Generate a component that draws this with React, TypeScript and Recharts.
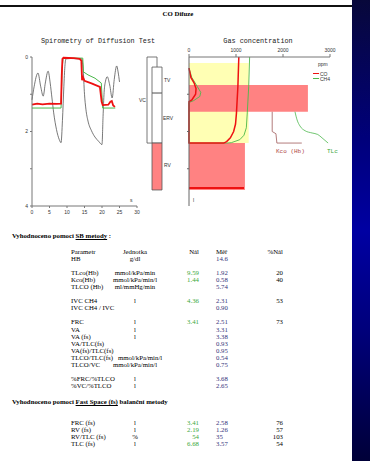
import React from "react";
import { LineChart, ComposedChart, BarChart, Bar, Line, XAxis, YAxis, ReferenceArea } from "recharts";

// spirometry traces: [time s, volume l]
const volumeTrace: [number, number][] = [
  [0, 1.15], [0.6, 0.8], [1.7, 0.43], [2.5, 0.8], [3.2, 1.05], [3.8, 0.7], [4.6, 0.38],
  [5.2, 0.7], [5.7, 1.1], [6.2, 1.5], [7, 1.95], [7.8, 2.22], [8.3, 2.3], [8.7, 1.7],
  [9.1, 0.8], [9.4, 0.25], [9.7, 0.05], [11, 0.04], [14.2, 0.05], [14.6, 0.3], [15, 1.0],
  [15.4, 1.4], [16, 1.72], [17, 1.98], [18, 2.15], [19, 2.26], [20, 2.35], [20.3, 1.6],
  [20.6, 0.95], [21, 0.65], [21.5, 0.53], [22.2, 0.75], [22.9, 1.1], [23.5, 0.6],
  [24.2, 0.24], [24.6, 0.4], [25, 0.67],
];
const coTrace: [number, number][] = [
  [0, 1.28], [1.5, 1.25], [3, 1.27], [5, 1.25], [7, 1.26], [8.3, 1.25], [8.5, 0.5],
  [8.7, 0.05], [9, 0.02], [12, 0.03], [13.6, 0.05], [14.1, 0.1], [14.3, 0.62], [14.6, 0.55],
  [15, 0.64], [17, 0.71], [19.4, 0.8], [19.9, 1.2], [20.2, 1.29], [21.8, 1.28],
  [22.4, 1.2], [22.8, 1.18], [23.2, 1.3], [23.7, 1.34],
];
const ch4Trace: [number, number][] = [
  [0, 1.37], [8.3, 1.37], [8.6, 0.3], [8.9, 0.03], [14.5, 0.03], [14.7, 0.4],
  [16, 0.48], [18, 0.57], [19.8, 0.7], [20.2, 1.37], [23.8, 1.37],
];

// gas concentration profiles: [ppm, volume l]
const coProfile: [number, number][] = [
  [1060, 0], [1040, 0.8], [1010, 1.5], [990, 1.8], [950, 2.0], [880, 2.17], [800, 2.27],
  [740, 2.31], [0, 2.31], [0, 1.2], [60, 1.15], [140, 1.0], [150, 0.85], [110, 0.7],
  [40, 0.55], [0, 0.3],
];
const ch4Profile: [number, number][] = [
  [1290, 0], [1270, 0.8], [1240, 1.5], [1220, 1.9], [1170, 2.1], [1080, 2.22],
  [900, 2.3], [800, 2.31], [0, 2.31], [0, 1.22], [100, 1.17], [230, 1.06], [250, 0.95],
  [180, 0.8], [60, 0.55], [0, 0.3],
];
const coResidual: [number, number][] = [[0, 3.52], [1170, 3.52]];
const kcoCurve: [number, number][] = [
  [1770, 1.47], [1770, 2.0], [1850, 2.06], [1870, 2.31], [2400, 2.31],
];
const tlcCurve: [number, number][] = [
  [2255, 1.47], [2300, 1.69], [2360, 1.85], [2470, 1.98], [2620, 2.04], [2740, 2.08],
  [2830, 2.17], [2960, 2.31],
];

// shaded zones: [ppm from, ppm to, volume from, volume to]
const mixZone = [0, 1270, 0.16, 2.31];
const kcoZone = [0, 2530, 0.75, 1.47];
const rvZone = [0, 1190, 2.31, 3.57];

// lung volumes [from, to] in litres
const vcRange = [0, 2.31];
const tvRange = [0.27, 0.97];
const ervRange = [0.97, 2.31];
const rvRange = [2.31, 3.57];

const timeTicks = [0, 5, 10, 15, 20, 25, 30];
const volTicks = [0, 1, 2, 3, 4];
const ppmTicks = [0, 1000, 2000, 3000];

// SB method table
const sbHeader = ["Parametr", "Jednotka", "Nál", "Měř", "%Nál"];
const sbParams = [
  "HB", "", "TLco(Hb)", "Kco(Hb)", "TLCO (Hb)", "", "IVC CH4", "IVC CH4 / IVC", "",
  "FRC", "VA", "VA (fs)", "VA/TLC(fs)", "VA(fs)/TLC(fs)", "TLCO/TLC(fs)", "TLCO/VC", "",
  "%FRC/%TLCO", "%VC/%TLCO",
];
const sbUnits = [
  "g/dl", "", "mmol/kPa/min", "mmol/kPa/min/l", "ml/mmHg/min", "", "l", "", "",
  "l", "l", "l", "", "", "mmol/kPa/min/l", "mmol/kPa/min/l", "", "l", "l",
];
const sbPred = [
  "", "", "9.59", "1.44", "", "", "4.36", "", "", "3.41", "", "", "", "", "", "", "", "", "",
];
const sbMeas = [
  "14.6", "", "1.92", "0.58", "5.74", "", "2.31", "0.90", "", "2.51", "3.31", "3.38",
  "0.93", "0.95", "0.54", "0.75", "", "3.68", "2.65",
];
const sbPct = [
  "", "", "20", "40", "", "", "53", "", "", "73", "", "", "", "", "", "", "", "", "",
];

// Fast Space balance table
const fsParams = ["FRC (fs)", "RV (fs)", "RV/TLC (fs)", "TLC (fs)"];
const fsUnits = ["l", "l", "%", "l"];
const fsPred = ["3.41", "2.19", "54", "6.68"];
const fsMeas = ["2.58", "1.26", "35", "3.57"];
const fsPct = ["76", "57", "103", "54"];

const pts = (arr: [number, number][], xKey: string) =>
  arr.map(([x, v]) => ({ [xKey]: x, v }));

// stacked columns: outer VC box, and the TV / ERV / RV column below its top offset
const vcColumn = [{ name: "VC", offset: vcRange[0], vc: vcRange[1] - vcRange[0] }];
const tlcColumn = [
  {
    name: "TLC",
    offset: tvRange[0],
    tv: tvRange[1] - tvRange[0],
    erv: ervRange[1] - ervRange[0],
    rv: rvRange[1] - rvRange[0],
  },
];

const GREEN = "#3aa83a";
const NAVY = "#33337a";
const PINK = "#ff8282";
const tickStyle = { fontSize: 5, fill: "#333", fontFamily: "Liberation Sans" };

type TxtProps = {
  x: number;
  y: number;
  align?: "left" | "right" | "center";
  size?: number;
  color?: string;
  bold?: boolean;
  font?: string;
  children: React.ReactNode;
};

function Txt({ x, y, align = "left", size = 6.8, color = "#000", bold, font, children }: TxtProps) {
  const shift = align === "right" ? "-100%" : align === "center" ? "-50%" : "0";
  return (
    <div
      style={{
        position: "absolute",
        left: x,
        top: y - 4,
        lineHeight: "8px",
        fontSize: size,
        color,
        fontWeight: bold ? "bold" : "normal",
        fontFamily: font ?? "'Liberation Serif', serif",
        whiteSpace: "nowrap",
        transform: `translateX(${shift})`,
      }}
    >
      {children}
    </div>
  );
}

function TableRow({ y, cells, colors }: { y: number; cells: string[]; colors: string[] }) {
  // long parameter name + long unit: unit moves to the next tab stop
  const unitAfterTab = cells[0].length > 10 && cells[1].length > 8;
  return (
    <>
      <Txt x={71} y={y} color={colors[0]}>{cells[0]}</Txt>
      {unitAfterTab ? (
        <Txt x={118} y={y} color={colors[1]}>{cells[1]}</Txt>
      ) : (
        <Txt x={135} y={y} align="center" color={colors[1]}>{cells[1]}</Txt>
      )}
      <Txt x={199} y={y} align="right" color={colors[2]}>{cells[2]}</Txt>
      <Txt x={216} y={y} color={colors[3]}>{cells[3]}</Txt>
      <Txt x={283} y={y} align="right" color={colors[4]}>{cells[4]}</Txt>
    </>
  );
}

const valueColors = ["#000", "#000", GREEN, NAVY, "#000"];

function SpirometryChart() {
  return (
    <div style={{ position: "absolute", left: 0, top: 0 }}>
      <LineChart width={145} height={222} margin={{ top: 57, right: 8, bottom: 4, left: 22 }}>
        <XAxis
          type="number"
          dataKey="t"
          domain={[0, 30]}
          ticks={timeTicks}
          height={12}
          tickSize={2}
          tick={tickStyle}
          stroke="#777"
          interval={0}
        />
        <YAxis
          type="number"
          domain={[0, 4]}
          reversed
          ticks={volTicks}
          width={10}
          tickSize={2}
          tick={tickStyle}
          stroke="#777"
          interval={0}
          tickFormatter={(v) => (v % 2 === 0 ? String(v) : "")}
        />
        <Line data={pts(volumeTrace, "t")} dataKey="v" type="monotone" stroke="#555" strokeWidth={0.8} dot={false} isAnimationActive={false} />
        <Line data={pts(ch4Trace, "t")} dataKey="v" type="linear" stroke="#4cb84c" strokeWidth={1} dot={false} isAnimationActive={false} />
        <Line data={pts(coTrace, "t")} dataKey="v" type="linear" stroke="#ee1111" strokeWidth={1.8} dot={false} isAnimationActive={false} />
      </LineChart>
    </div>
  );
}

const boxStroke = { stroke: "#555", strokeWidth: 0.8 };

function LungVolumes() {
  const chartProps = {
    width: 20,
    height: 215,
    margin: { top: 57, right: 5, bottom: 9, left: 5 },
    barCategoryGap: 0,
  };
  return (
    <>
      <div style={{ position: "absolute", left: 142, top: 0 }}>
        <BarChart {...chartProps} data={vcColumn}>
          <XAxis type="category" dataKey="name" hide />
          <YAxis type="number" domain={[0, 4]} reversed hide />
          <Bar dataKey="offset" stackId="lung" fill="none" isAnimationActive={false} />
          <Bar dataKey="vc" stackId="lung" fill="none" {...boxStroke} isAnimationActive={false} />
        </BarChart>
      </div>
      <div style={{ position: "absolute", left: 147, top: 0 }}>
        <BarChart {...chartProps} data={tlcColumn}>
          <XAxis type="category" dataKey="name" hide />
          <YAxis type="number" domain={[0, 4]} reversed hide />
          <Bar dataKey="offset" stackId="lung" fill="none" isAnimationActive={false} />
          <Bar dataKey="tv" stackId="lung" fill="#fff" {...boxStroke} isAnimationActive={false} />
          <Bar dataKey="erv" stackId="lung" fill="#fff" {...boxStroke} isAnimationActive={false} />
          <Bar dataKey="rv" stackId="lung" fill={PINK} {...boxStroke} isAnimationActive={false} />
        </BarChart>
      </div>
    </>
  );
}

function GasChart() {
  return (
    <div style={{ position: "absolute", left: 170, top: 0 }}>
      <ComposedChart width={190} height={215} margin={{ top: 47, right: 30, bottom: 9, left: 15 }}>
        <XAxis
          type="number"
          dataKey="ppm"
          orientation="top"
          domain={[0, 3000]}
          ticks={ppmTicks}
          height={10}
          tickSize={3}
          tick={tickStyle}
          stroke="#777"
          interval={0}
        />
        <YAxis
          type="number"
          domain={[0, 4]}
          reversed
          ticks={[1, 2, 3]}
          width={4}
          tickSize={2}
          tickFormatter={() => ""}
          stroke="#666"
        />
        <ReferenceArea x1={mixZone[0]} x2={mixZone[1]} y1={mixZone[2]} y2={mixZone[3]} fill="#ffffb4" fillOpacity={1} />
        <ReferenceArea x1={kcoZone[0]} x2={kcoZone[1]} y1={kcoZone[2]} y2={kcoZone[3]} fill={PINK} fillOpacity={1} />
        <ReferenceArea x1={rvZone[0]} x2={rvZone[1]} y1={rvZone[2]} y2={rvZone[3]} fill={PINK} fillOpacity={1} />
        <Line data={pts(ch4Profile, "ppm")} dataKey="v" type="linear" stroke="#4cb84c" strokeWidth={0.9} dot={false} isAnimationActive={false} />
        <Line data={pts(coProfile, "ppm")} dataKey="v" type="linear" stroke="#ee1111" strokeWidth={1.5} dot={false} isAnimationActive={false} />
        <Line data={pts(coResidual, "ppm")} dataKey="v" type="linear" stroke="#ee1111" strokeWidth={2} dot={false} isAnimationActive={false} />
        <Line data={pts(kcoCurve, "ppm")} dataKey="v" type="linear" stroke="#a05a5a" strokeWidth={0.8} dot={false} isAnimationActive={false} />
        <Line data={pts(tlcCurve, "ppm")} dataKey="v" type="monotone" stroke="#4cb84c" strokeWidth={0.8} dot={false} isAnimationActive={false} />
      </ComposedChart>
    </div>
  );
}

const mono = "'Liberation Mono', monospace";
const sans = "'Liberation Sans', sans-serif";

export default function App() {
  const sbRowY = (i: number) => 259 + i * 7.05;
  const fsRowY = (i: number) => 423 + i * 7;
  return (
    <div style={{ position: "absolute", left: 0, top: 0, width: 370, height: 461, background: "#fff", overflow: "hidden" }}>
      <div style={{ position: "absolute", left: 0, top: 5, width: 352, height: 2, background: "#111" }} />
      <div
        style={{
          position: "absolute",
          left: 352,
          top: 0,
          width: 18,
          height: 461,
          background: "linear-gradient(to bottom, #08083a 0%, #00007a 30%, #0000a2 50%, #00007a 72%, #000038 100%)",
        }}
      />

      <Txt x={178} y={14} align="center" bold size={6.8}>CO Difuze</Txt>
      <Txt x={98} y={41} align="center" font={mono} size={6.8} color="#222">Spirometry of Diffusion Test</Txt>
      <Txt x={258} y={41} align="center" font={mono} size={6.8} color="#222">Gas concentration</Txt>

      <SpirometryChart />
      <LungVolumes />
      <GasChart />

      <Txt x={130} y={200} size={5} font={sans} color="#333">s</Txt>
      <Txt x={193} y={200} size={5} font={sans} color="#333">l</Txt>
      <Txt x={139} y={100} size={5} font={sans} color="#333">VC</Txt>
      <Txt x={164} y={80} size={5} font={sans} color="#333">TV</Txt>
      <Txt x={163} y={118} size={5} font={sans} color="#333">ERV</Txt>
      <Txt x={164} y={165} size={5} font={sans} color="#333">RV</Txt>

      <Txt x={318} y={64} size={5} font={sans} color="#333">ppm</Txt>
      <div style={{ position: "absolute", left: 313, top: 73, width: 6, height: 1, background: "#ee1111" }} />
      <Txt x={320} y={73.5} size={5} font={sans} color="#333">CO</Txt>
      <div style={{ position: "absolute", left: 313, top: 78, width: 6, height: 1, background: "#4cb84c" }} />
      <Txt x={320} y={78.5} size={5} font={sans} color="#333">CH4</Txt>

      <Txt x={276} y={152} size={6} font={mono} color="#b04848">Kco (Hb)</Txt>
      <Txt x={327} y={152} size={6} font={mono} color={GREEN}>TLc</Txt>

      <Txt x={12} y={236} bold>
        Vyhodnoceno pomocí <span style={{ textDecoration: "underline" }}>SB metody</span> :
      </Txt>
      <TableRow y={252} cells={sbHeader} colors={["#000", "#000", "#000", "#000", "#000"]} />
      {sbParams.map((p, i) => (
        <TableRow
          key={`sb${i}`}
          y={sbRowY(i)}
          cells={[p, sbUnits[i], sbPred[i], sbMeas[i], sbPct[i]]}
          colors={valueColors}
        />
      ))}

      <Txt x={12} y={402} bold>
        Vyhodnoceno pomocí <span style={{ textDecoration: "underline" }}>Fast Space (fs)</span> balanční metody
      </Txt>
      {fsParams.map((p, i) => (
        <TableRow
          key={`fs${i}`}
          y={fsRowY(i)}
          cells={[p, fsUnits[i], fsPred[i], fsMeas[i], fsPct[i]]}
          colors={valueColors}
        />
      ))}
    </div>
  );
}
